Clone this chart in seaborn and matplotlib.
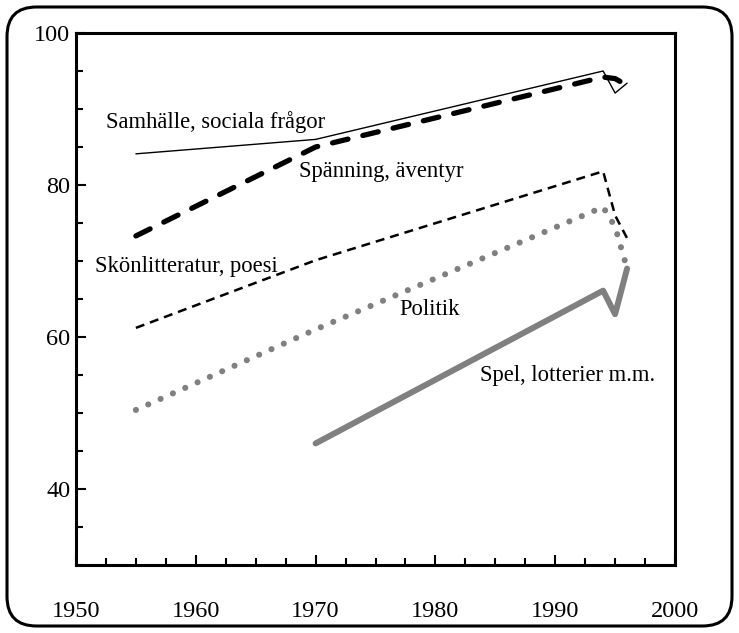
import matplotlib
matplotlib.use("Agg")
import matplotlib.pyplot as plt
import seaborn as sns
import pandas as pd
from matplotlib.patches import FancyBboxPatch
from matplotlib.ticker import MultipleLocator

# ---- data ----
years = [1955, 1970, 1994, 1995, 1996]
samhalle = [84.1, 86.0, 95.0, 92.1, 93.4]
spanning = [73.3, 85.0, 94.2, 94.0, 93.1]
skonlitt = [61.2, 70.1, 81.8, 76.0, 73.0]
politik = [50.4, 61.0, 77.1, 74.5, 69.0]
spel_years = [1970, 1994, 1995, 1996]
spel = [46.0, 66.1, 63.0, 69.0]

labels = ["Samhälle, sociala frågor", "Spänning, äventyr",
          "Skönlitteratur, poesi", "Politik", "Spel, lotterier m.m."]
label_x = [1952.5, 1968.6, 1951.6, 1977.0, 1983.7]
label_y = [87.5, 81.1, 68.5, 62.9, 54.2]

x_ticks = [1950, 1960, 1970, 1980, 1990, 2000]
y_ticks = [40, 60, 80, 100]

sns.set_style("white")
plt.rcParams["font.family"] = ["Liberation Serif", "DejaVu Serif"]
plt.rcParams["text.color"] = "black"
plt.rcParams["xtick.labelcolor"] = "black"
plt.rcParams["ytick.labelcolor"] = "black"

fig = plt.figure(figsize=(7.39, 6.33), dpi=100)
ax = fig.add_axes([76 / 739, 68 / 633, 599 / 739, 532 / 633])

gray = "#808080"

# Samhälle: thin solid black
sns.lineplot(x=years, y=samhalle, ax=ax, color="black", linewidth=1.0, sort=False)
# Spänning: thick dashed black
sns.lineplot(x=years, y=spanning, ax=ax, color="black", linewidth=3.8, sort=False,
             linestyle=(0, (3.0, 2.9)))
ax.lines[-1].set_dash_capstyle("round")
# Skönlitteratur: thin dashed black
sns.lineplot(x=years, y=skonlitt, ax=ax, color="black", linewidth=1.8, sort=False,
             linestyle=(0, (3.6, 2.4)))
# Politik: gray dotted
sns.lineplot(x=years, y=politik, ax=ax, color=gray, linewidth=4.4, sort=False,
             linestyle=(0, (0.01, 2.2)))
ax.lines[-1].set_dash_capstyle("round")
# Spel: thick gray solid
sns.lineplot(x=spel_years, y=spel, ax=ax, color=gray, linewidth=4.3, sort=False)
ax.lines[-1].set_solid_capstyle("round")

for t, lx, ly in zip(labels, label_x, label_y):
    ax.text(lx, ly, t, fontsize=16.3, ha="left", va="baseline", color="black")

ax.set_xlim(1950, 2000)
ax.set_ylim(30, 100)
ax.set_xticks(x_ticks)
ax.set_yticks(y_ticks)
ax.xaxis.set_minor_locator(MultipleLocator(2.5))
ax.yaxis.set_minor_locator(MultipleLocator(5))
ax.tick_params(axis="both", which="both", bottom=True, left=True,
               top=False, right=False)
ax.tick_params(axis="both", which="major", direction="in", length=7.5, width=1.5,
               labelsize=17.5, color="black", labelcolor="black")
ax.tick_params(axis="both", which="minor", direction="in", length=5, width=1.5,
               color="black")
ax.tick_params(axis="x", which="major", pad=26)
ax.tick_params(axis="y", which="major", pad=4)
for s in ax.spines.values():
    s.set_visible(True)
    s.set_linewidth(2.2)
    s.set_color("black")
ax.set_xlabel("")
ax.set_ylabel("")
ax.grid(False)

# outer rounded frame
frame = FancyBboxPatch((7 / 739, 7 / 633), 725 / 739, 619 / 633,
                       boxstyle="round,pad=0,rounding_size=0.04",
                       transform=fig.transFigure, fill=False,
                       edgecolor="black", linewidth=2.2, mutation_aspect=739 / 633)
fig.patches.append(frame)

fig.savefig("out.png", dpi=100)
